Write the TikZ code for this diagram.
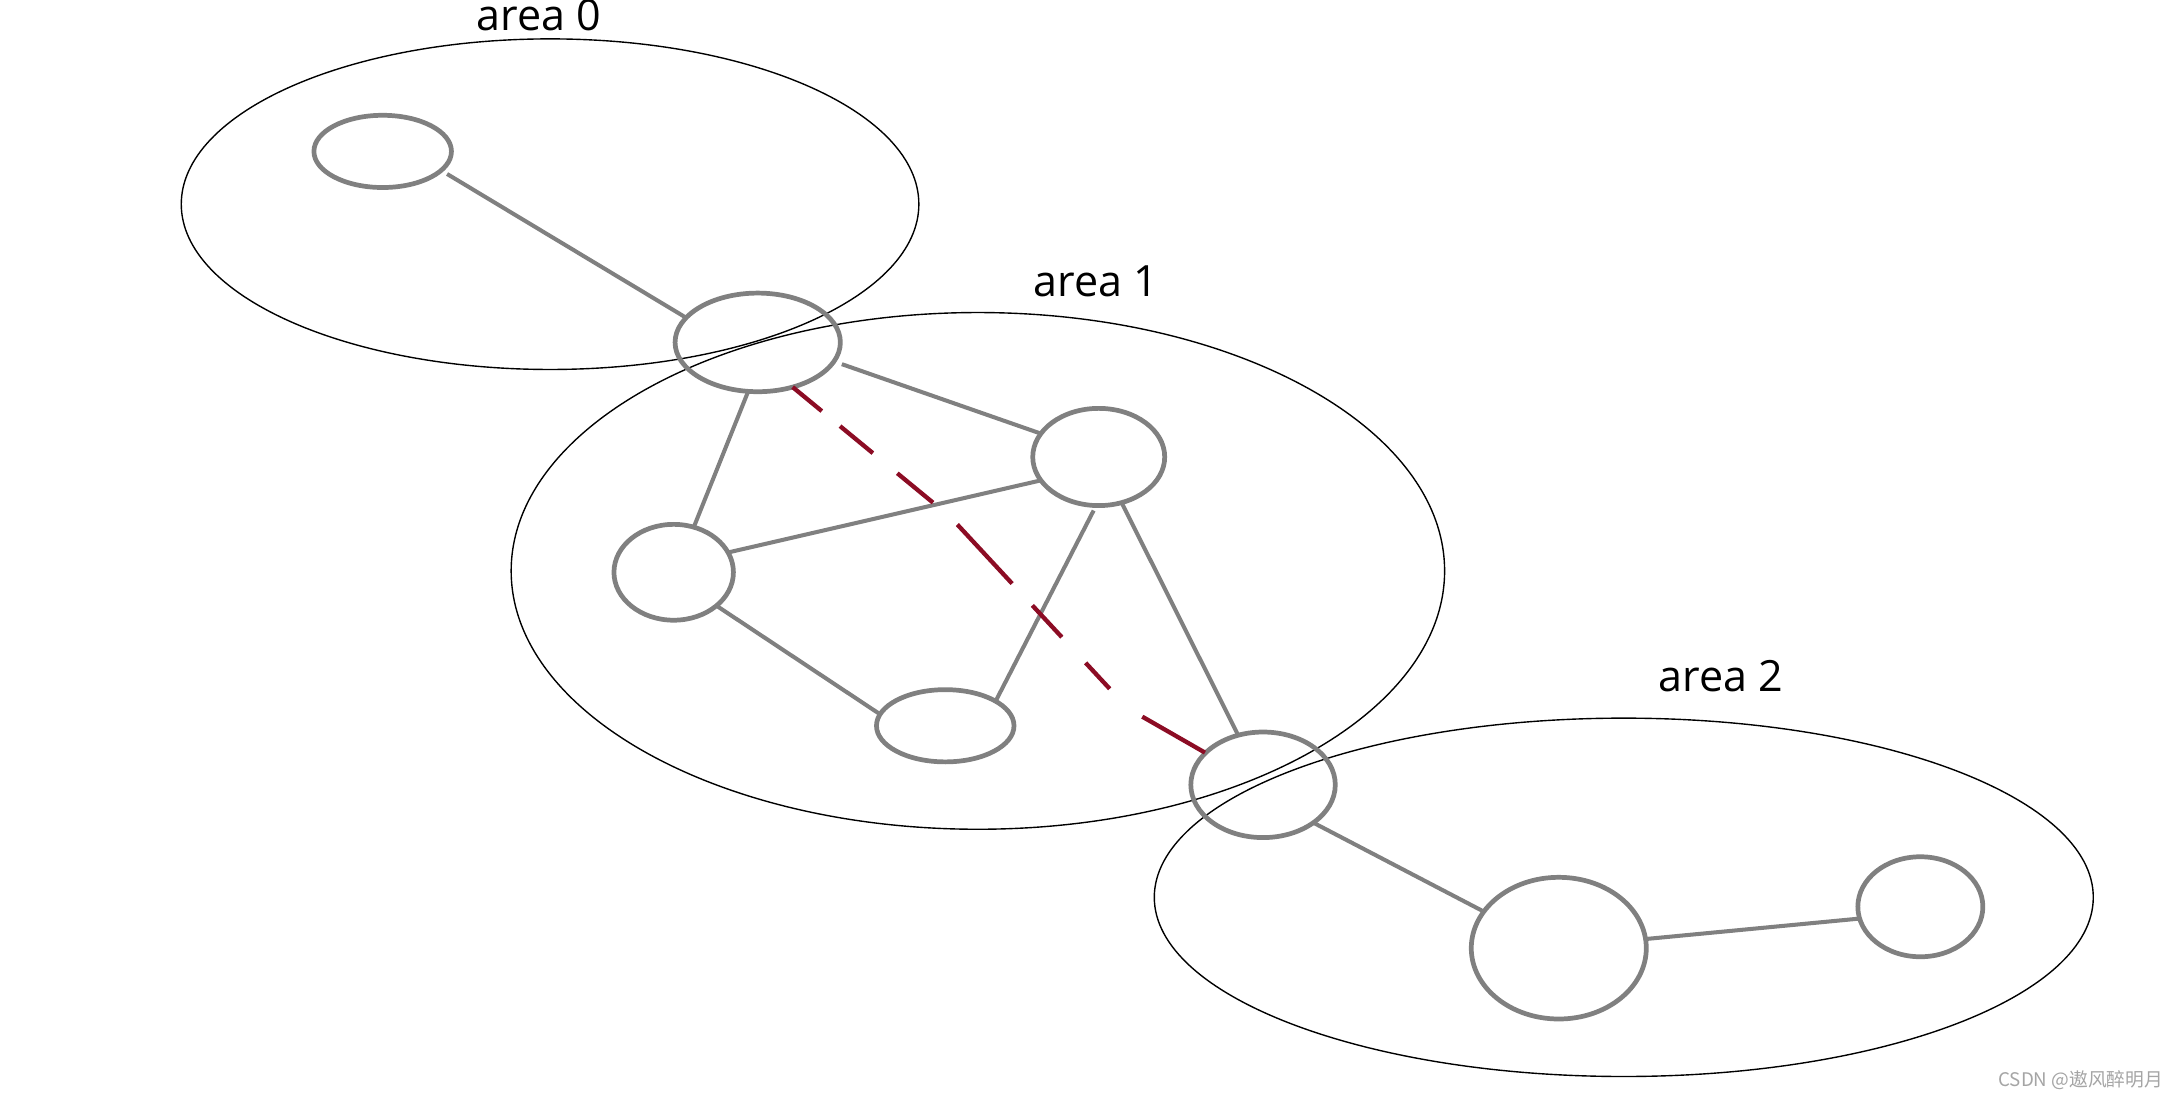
\documentclass[tikz,border=0pt]{standalone}
\usepackage{fontspec}
\setmainfont{Open Sans}
\newfontfamily\cjkfont{Noto Sans CJK SC}
\usetikzlibrary{shapes.geometric}
\definecolor{nodegray}{RGB}{128,128,128}
\definecolor{linkred}{RGB}{140,12,36}
\definecolor{wmgray}{RGB}{165,165,165}
\begin{document}
\begin{tikzpicture}[x=1pt,y=-1pt,
  router/.style={ellipse, draw=nodegray, line width=3.4pt, inner sep=0pt, outer sep=0pt},
  areaell/.style={ellipse, draw=black, line width=1pt, inner sep=0pt, outer sep=0pt},
  link/.style={draw=nodegray, line width=2.9pt},
  redlink/.style={draw=linkred, line width=3.1pt,
    dash pattern=on 27.2pt off 17pt on 30.6pt off 22.8pt on 33.3pt off 23.6pt on 58pt off 21.4pt on 31.2pt off 25.2pt on 25.5pt off 31.2pt on 52pt off 20pt},
  lbl/.style={inner sep=0pt, anchor=base west, font=\fontsize{31pt}{31pt}\selectfont},
  wmark/.style={inner sep=0pt, anchor=base east, text=wmgray, font=\cjkfont\fontsize{13.5pt}{13.5pt}\selectfont}]
\useasboundingbox[fill=white] (0,0) rectangle (1568,794);

% areas
\node[areaell, minimum width=531pt, minimum height=238pt] (A0) at (396,147) {};
\node[areaell, minimum width=672pt, minimum height=372pt] (A1) at (704,411) {};
\node[areaell, minimum width=676pt, minimum height=258pt] (A2) at (1169,646) {};

% labels
\node[lbl] (L0) at (343,22.1) {area 0};
\node[lbl] (L1) at (744,213.6) {area 1};
\node[lbl] (L2) at (1194,498) {area 2};

% routers
\node[router, minimum width=99pt, minimum height=52pt] (n0) at (275.5,109) {};
\node[router, minimum width=119pt, minimum height=71pt] (n1) at (545.5,246.5) {};
\node[router, minimum width=95pt, minimum height=70pt] (n2) at (791,329) {};
\node[router, minimum width=86pt, minimum height=69pt] (n3) at (485,412) {};
\node[router, minimum width=99pt, minimum height=52pt] (n4) at (680.5,522.5) {};
\node[router, minimum width=104pt, minimum height=76pt] (n5) at (909.3,565) {};
\node[router, minimum width=126pt, minimum height=102pt] (n6) at (1122.2,682.6) {};
\node[router, minimum width=90pt, minimum height=72pt] (n7) at (1382.5,652.8) {};

% bends of the virtual link
\coordinate (v1) at (684,372);
\coordinate (v2) at (812,510);

% links
\draw[link, shorten <=5pt] (n0.-18) -- (n1.161);
\draw[link, shorten <=6pt] (n1.-14) -- (n2.158);
\draw[link] (n1.-101) -- (n3.66);
\draw[link] (n3.20) -- (n2.-158);
\draw[link] (n3.-38) -- (n4.170);
\draw[link, shorten >=4pt] (n4.26) -- (n2.-93);
\draw[link] (n2) -- (n5);
\draw[link] (n5.-37) -- (n6.154);
\draw[link] (n6.6) -- (n7.-169);

% virtual link
\draw[redlink] (n1.-52) -- (v1) -- (v2) -- (n5.151);

% watermark
\node[wmark] (wm) at (1557.5,781.9) {CSDN @遨风醉明月};
\end{tikzpicture}
\end{document}
